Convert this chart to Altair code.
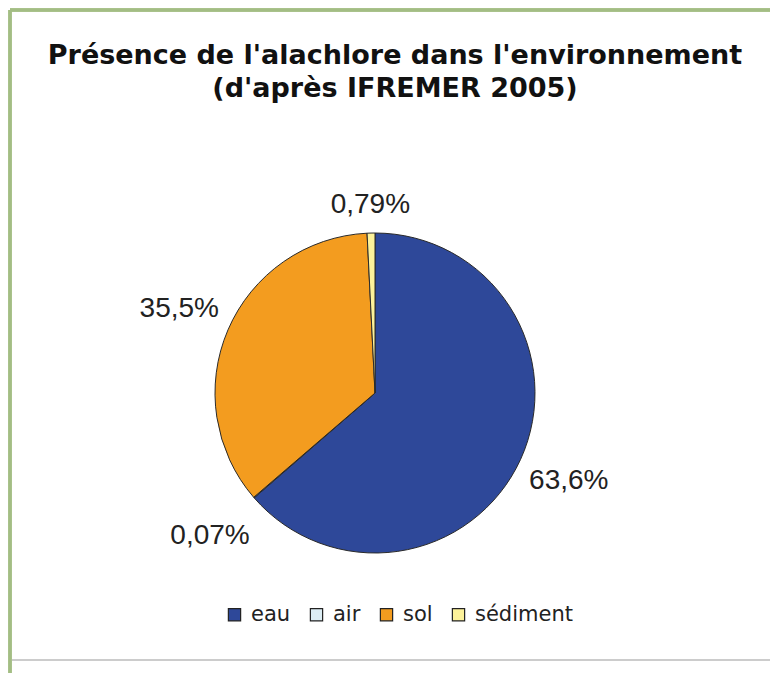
import altair as alt
import pandas as pd

categories = ["eau", "air", "sol", "sédiment"]
values = [63.6, 0.07, 35.5, 0.79]
labels = ["63,6%", "0,07%", "35,5%", "0,79%"]
colors = ["#2e4899", "#dcedf4", "#f39c1f", "#fdf29a"]

df = pd.DataFrame({"cat": categories, "val": values, "lab": labels,
                   "idx": list(range(len(categories)))})

PAD_TOP = 110
W, H = 770, 673 - PAD_TOP
CX, CY, R = 375, 393 - PAD_TOP, 160

base = alt.Chart(df)

pie = base.mark_arc(stroke="#2a2a2a", strokeWidth=1).encode(
    theta=alt.Theta("val:Q", stack=True),
    order=alt.Order("idx:Q"),
    color=alt.Color(
        "cat:N",
        scale=alt.Scale(domain=categories, range=colors),
        sort=categories,
        legend=alt.Legend(
            title=None, orient="none", direction="horizontal",
            legendX=224, legendY=494,
            symbolType="square", symbolSize=150,
            symbolStrokeColor="#222", symbolStrokeWidth=1.2,
            labelFont="DejaVu Sans", labelFontSize=21, labelColor="#222",
            columnPadding=15, labelOffset=6,
        ),
    ),
    x=alt.value(CX),
    y=alt.value(CY),
    radius=alt.value(R),
)

text = base.transform_window(
    cum="sum(val)", sort=[alt.SortField("idx")]
).transform_joinaggregate(
    total="sum(val)"
).transform_calculate(
    mid="(datum.cum - datum.val / 2) / datum.total * 2 * PI",
    r="datum.cat === 'sédiment' ? 188 : (datum.cat === 'air' ? 218 : 213)",
).mark_text(font="Liberation Sans", fontSize=28, color="#222",
            align="center", baseline="middle").encode(
    theta=alt.Theta("mid:Q", scale=None),
    radius=alt.Radius("r:Q", scale=None),
    text="lab:N",
    x=alt.value(CX),
    y=alt.value(CY),
)

green = "#a3bd84"
top_line = alt.Chart(df).mark_rule(color=green, strokeWidth=3).encode(
    x=alt.value(10), x2=alt.value(W), y=alt.value(10 - PAD_TOP))
left_line = alt.Chart(df).mark_rule(color=green, strokeWidth=3).encode(
    x=alt.value(10), y=alt.value(10 - PAD_TOP), y2=alt.value(H))
bottom_line = alt.Chart(df).mark_rule(color="#cccccc", strokeWidth=2).encode(
    x=alt.value(12), x2=alt.value(W), y=alt.value(660 - PAD_TOP))

chart = alt.layer(top_line, left_line, bottom_line, pie, text).resolve_scale(
    theta="independent", radius="independent"
).properties(
    width=W, height=H,
    padding={"top": PAD_TOP, "left": 0, "right": 0, "bottom": 0},
    autosize=alt.AutoSizeParams(type="none"),
    background="white",
    title=alt.TitleParams(
        ["Présence de l'alachlore dans l'environnement", "(d'après IFREMER 2005)"],
        font="DejaVu Sans", fontSize=27, fontWeight="bold", color="#111",
        anchor="middle", dx=10, offset=-94, lineHeight=33,
    ),
).configure_view(stroke=None)

chart.save("out.html", embed_options={"renderer": "svg", "actions": False})
